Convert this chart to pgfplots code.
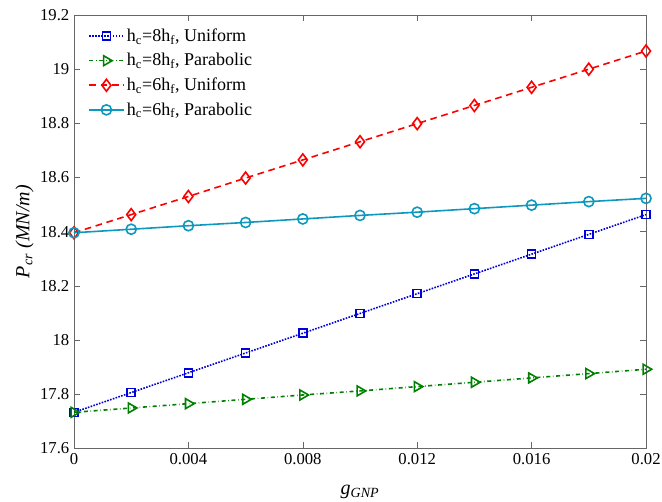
\documentclass[border=0pt]{standalone}
\usepackage{fontspec}
\setmainfont{Liberation Serif}
\usepackage{pgfplots}
\pgfplotsset{compat=1.18}
\definecolor{mblue}{rgb}{0,0,0.85}
\definecolor{mgreen}{rgb}{0,0.5,0}
\definecolor{mred}{rgb}{1,0,0}
\definecolor{mcyan}{rgb}{0.05,0.6,0.75}
\begin{document}
\begin{tikzpicture}
\begin{axis}[
    scale only axis,
    width=429pt, height=325pt,
    xmin=0, xmax=0.02,
    ymin=17.6, ymax=19.2,
    xtick={0,0.004,0.008,0.012,0.016,0.02},
    xticklabels={0,0.004,0.008,0.012,0.016,0.02},
    ytick={17.6,17.8,18,18.2,18.4,18.6,18.8,19,19.2},
    yticklabels={17.6,17.8,18,18.2,18.4,18.6,18.8,19,19.2},
    scaled x ticks=false,
    /pgf/number format/assume math mode=true,
    tick align=inside,
    major tick length=4.5pt,
    axis line style={black!60},
    every tick/.style={black!60},
    tick label style={font=\fontsize{12.5}{14}\selectfont},
    xlabel={\fontsize{15}{17}\selectfont\itshape g\textsubscript{GNP}},
    ylabel={\fontsize{15}{17}\selectfont\itshape P\textsubscript{cr} (MN/m)},
    xlabel style={yshift=-9pt},
    ylabel style={yshift=-2pt},
    legend style={at={(0.025,0.975)}, anchor=north west, draw=none, fill=none,
        font=\fontsize{13.5}{15}\selectfont, row sep=3.5pt, inner sep=0pt},
    legend cell align=left,
    legend image code/.code={\draw[mark repeat=2,mark phase=2,#1] plot coordinates {(0cm,0cm) (0.45cm,0cm) (0.9cm,0cm)};},
]
\addplot[mblue, densely dotted, line width=1.2pt, mark=square, mark size=3pt, mark options={solid, line width=1.2pt}] coordinates {
(0,17.733) (0.002,17.806) (0.004,17.879) (0.006,17.952) (0.008,18.025) (0.010,18.098)
(0.012,18.171) (0.014,18.244) (0.016,18.317) (0.018,18.390) (0.020,18.463)};
\addlegendentry{h\textsubscript{c}=8h\textsubscript{f}, Uniform}
\addplot[mgreen, dash dot, line width=1.2pt, mark=triangle, mark size=4.3pt, mark options={solid, line width=1.2pt, rotate=-90}] coordinates {
(0,17.733) (0.002,17.749) (0.004,17.765) (0.006,17.781) (0.008,17.797) (0.010,17.812)
(0.012,17.828) (0.014,17.844) (0.016,17.860) (0.018,17.876) (0.020,17.892)};
\addlegendentry{h\textsubscript{c}=8h\textsubscript{f}, Parabolic}
\addplot[mred, dash pattern=on 5pt off 3.5pt, line width=1.2pt, mark=diamond, mark size=4.5pt, mark options={solid, line width=1.2pt}] coordinates {
(0,18.396) (0.002,18.463) (0.004,18.530) (0.006,18.598) (0.008,18.665) (0.010,18.732)
(0.012,18.799) (0.014,18.866) (0.016,18.933) (0.018,19.000) (0.020,19.067)};
\addlegendentry{h\textsubscript{c}=6h\textsubscript{f}, Uniform}
\addplot[mcyan, solid, line width=1.2pt, mark=o, mark size=3.8pt, mark options={solid, line width=1.2pt}] coordinates {
(0,18.396) (0.002,18.409) (0.004,18.422) (0.006,18.434) (0.008,18.447) (0.010,18.460)
(0.012,18.472) (0.014,18.485) (0.016,18.498) (0.018,18.511) (0.020,18.523)};
\addlegendentry{h\textsubscript{c}=6h\textsubscript{f}, Parabolic}
\end{axis}
\pgfresetboundingbox
\path[use as bounding box] ([xshift=-55.5pt,yshift=-39.75pt]current axis.south west) rectangle ([xshift=12pt,yshift=11.25pt]current axis.north east);
\end{tikzpicture}
\end{document}
